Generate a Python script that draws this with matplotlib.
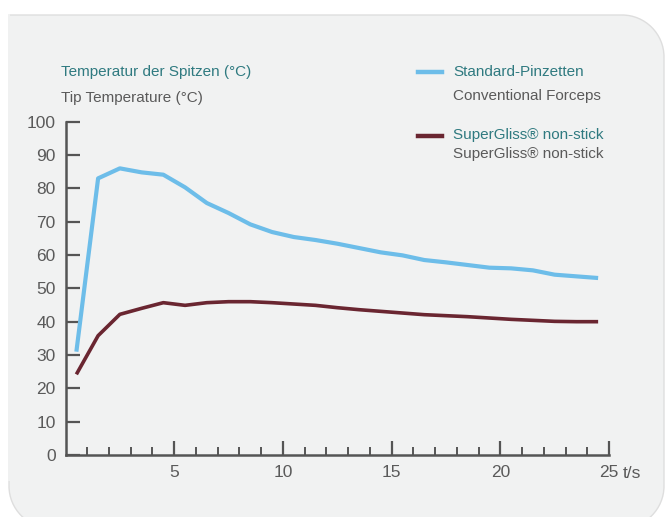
import matplotlib
matplotlib.use("Agg")
import matplotlib.pyplot as plt
from matplotlib.patches import PathPatch
from matplotlib.path import Path

# data
t = [0.5, 1.5, 2.5, 3.5, 4.5, 5.5, 6.5, 7.5, 8.5, 9.5, 10.5, 11.5, 12.5,
     13.5, 14.5, 15.5, 16.5, 17.5, 18.5, 19.5, 20.5, 21.5, 22.5, 23.5, 24.5]
standard = [31, 83, 86, 84.8, 84.1, 80.3, 75.6, 72.6, 69.2, 66.9, 65.4, 64.5,
            63.4, 62.1, 60.8, 59.9, 58.5, 57.8, 57.0, 56.2, 56.0, 55.4, 54.1,
            53.6, 53.1]
supergliss = [24.2, 35.8, 42.2, 44.0, 45.7, 44.9, 45.7, 46.0, 46.0, 45.7, 45.3,
              44.9, 44.2, 43.6, 43.1, 42.6, 42.1, 41.8, 41.5, 41.1, 40.7, 40.4,
              40.1, 40.0, 40.0]
y_ticks = [0, 10, 20, 30, 40, 50, 60, 70, 80, 90, 100]
x_major = [5, 10, 15, 20, 25]
x_minor = list(range(1, 26))

BLUE = "#6dbde9"
RED = "#6a2631"
TEAL = "#2f7a80"
GREY = "#5a5a5a"
AXIS = "#555555"
PANEL = "#f1f2f2"

plt.rcParams["font.family"] = ["Liberation Sans", "DejaVu Sans"]

W, H = 665, 517
fig = plt.figure(figsize=(W / 100, H / 100), dpi=100)
fig.patch.set_facecolor("white")


def px(x, y):
    # pixel coords (top-left origin) -> figure fraction
    return x / W, 1 - y / H


def rounded_panel(left, top, right, bottom, r):
    # oben links eckig, die anderen ecken rund
    k = 0.5523 * r
    pts = [
        (left, top),
        (right - r, top),
        (right - r + k, top), (right, top + r - k), (right, top + r),
        (right, bottom - r),
        (right, bottom - r + k), (right - r + k, bottom), (right - r, bottom),
        (left + r, bottom),
        (left + r - k, bottom), (left, bottom - r + k), (left, bottom - r),
        (left, top),
    ]
    codes = [Path.MOVETO, Path.LINETO,
             Path.CURVE4, Path.CURVE4, Path.CURVE4,
             Path.LINETO,
             Path.CURVE4, Path.CURVE4, Path.CURVE4,
             Path.LINETO,
             Path.CURVE4, Path.CURVE4, Path.CURVE4,
             Path.CLOSEPOLY]
    return Path([px(*p) for p in pts], codes)


panel = PathPatch(rounded_panel(9, 15, 664, 528, 42), transform=fig.transFigure,
                  facecolor=PANEL, edgecolor="#dedede", linewidth=1.0, zorder=-2)
fig.add_artist(panel)
# linke kante ohne rahmen
fig.add_artist(plt.Line2D([px(9, 0)[0], px(9, 0)[0]], [px(0, 15)[1], px(0, 480)[1]],
                          color=PANEL, linewidth=1.4, transform=fig.transFigure,
                          zorder=-1))

ax = fig.add_axes([65.5 / W, 62 / H, (609 - 65.5) / W, (455 - 121.7) / H])
ax.set_zorder(2)
ax.set_facecolor("none")

ax.plot(t, standard, color=BLUE, linewidth=3, solid_capstyle="butt", zorder=3)
ax.plot(t, supergliss, color=RED, linewidth=2.6, solid_capstyle="butt", zorder=3)

ax.set_xlim(0, 25)
ax.set_ylim(0, 100)

for s in ["top", "right"]:
    ax.spines[s].set_visible(False)
for s in ["left", "bottom"]:
    ax.spines[s].set_color(AXIS)
    ax.spines[s].set_linewidth(1.8)

ax.set_yticks(y_ticks)
ax.set_xticks(x_major)
ax.set_xticks(x_minor, minor=True)
ax.tick_params(axis="y", direction="in", length=10, width=1.6, color=AXIS,
               labelsize=12.5, labelcolor=GREY, pad=7)
ax.tick_params(axis="x", which="major", direction="in", length=10, width=1.6,
               color=AXIS, labelsize=12.5, labelcolor=GREY, pad=7)
ax.tick_params(axis="x", which="minor", direction="in", length=6, width=1.4,
               color=AXIS)
fig.text(*px(623, 473), "t/s", fontsize=12.5, color=GREY, ha="left",
         va="center")

# beschriftung oben
fig.text(*px(61, 72), "Temperatur der Spitzen (°C)", fontsize=11, color=TEAL,
         ha="left", va="center")
fig.text(*px(61, 98), "Tip Temperature (°C)", fontsize=11, color=GREY,
         ha="left", va="center")

# legende
lx0, ly = px(418, 72)
lx1, _ = px(442, 72)
fig.add_artist(plt.Line2D([lx0, lx1], [ly, ly], color=BLUE, linewidth=3.2,
                          transform=fig.transFigure))
ly2 = px(0, 135.5)[1]
fig.add_artist(plt.Line2D([lx0, lx1], [ly2, ly2], color=RED, linewidth=3.2,
                          transform=fig.transFigure))
fig.text(*px(453, 72), "Standard-Pinzetten", fontsize=11, color=TEAL,
         ha="left", va="center")
fig.text(*px(453, 96), "Conventional Forceps", fontsize=11, color=GREY,
         ha="left", va="center")
fig.text(*px(453, 135), "SuperGliss® non-stick", fontsize=11, color=TEAL,
         ha="left", va="center")
fig.text(*px(453, 154), "SuperGliss® non-stick", fontsize=11, color=GREY,
         ha="left", va="center")

fig.savefig("out.png", dpi=100, facecolor="white")
